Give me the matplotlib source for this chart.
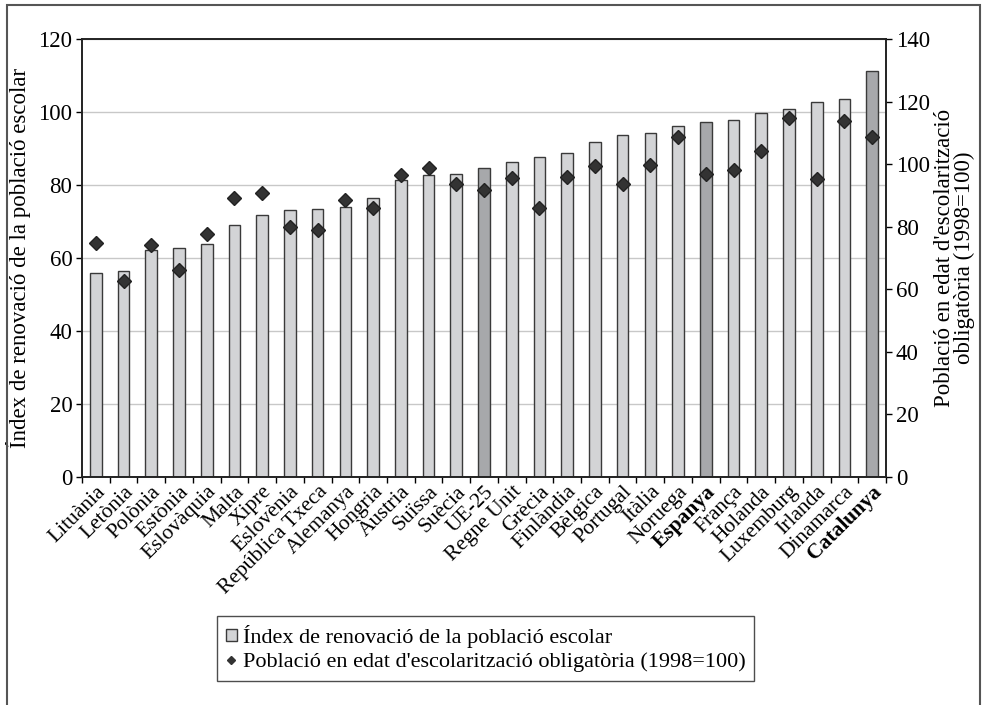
import matplotlib.pyplot as plt
import numpy as np
from matplotlib.patches import Rectangle
from matplotlib.lines import Line2D

plt.rcParams["font.family"] = ["Liberation Serif", "DejaVu Serif"]

countries = [
    "Lituània", "Letònia", "Polònia", "Estònia", "Eslovàquia", "Malta", "Xipre",
    "Eslovènia", "República Txeca", "Alemanya", "Hongria", "Àustria", "Suïssa",
    "Suècia", "UE-25", "Regne Unit", "Grècia", "Finlàndia", "Bèlgica", "Portugal",
    "Itàlia", "Noruega", "Espanya", "França", "Holanda", "Luxemburg", "Irlanda",
    "Dinamarca", "Catalunya",
]
renewal_index = [
    56.0, 56.3, 62.2, 62.8, 63.8, 69.0, 71.8, 73.1, 73.4, 73.9, 76.4, 81.3, 82.9,
    83.1, 84.6, 86.4, 87.7, 88.7, 91.7, 93.7, 94.4, 96.2, 97.2, 97.8, 99.7, 100.8,
    102.7, 103.6, 111.4,
]
school_pop = [
    74.8, 62.6, 74.1, 66.1, 77.6, 89.1, 90.7, 79.8, 79.0, 88.5, 86.0, 96.7, 98.7,
    93.6, 91.7, 95.7, 86.1, 95.9, 99.6, 93.8, 99.8, 108.6, 96.8, 98.1, 104.3, 114.7,
    95.4, 114.0, 108.7,
]
highlighted = ["UE-25", "Espanya", "Catalunya"]
bold_labels = ["Espanya", "Catalunya"]

light = "#d3d4d6"
dark = "#a7a8ab"
edge = "#3a3a3a"

fig = plt.figure(figsize=(9.91, 7.05), dpi=100)
fig.patches.append(Rectangle((7 / 991, -0.05), (980 - 7) / 991, 1.05 - 5 / 705,
                             transform=fig.transFigure, fill=False,
                             edgecolor="#555555", linewidth=1.5))

ax = fig.add_axes([82 / 991, 1 - 476.7 / 705, (886 - 82) / 991, (476.7 - 39.3) / 705])
x = np.arange(len(countries))
colors = [dark if c in highlighted else light for c in countries]
ax.bar(x, renewal_index, width=0.42, color=colors, edgecolor=edge, linewidth=1.0, zorder=2)
ax.set_xlim(-0.5, len(countries) - 0.5)
ax.set_ylim(0, 120)
ax.set_yticks(np.arange(0, 121, 20))
ax.yaxis.grid(True, color="#c8c8c8", linewidth=1.0, zorder=0)
ax.set_axisbelow(True)
ax.set_ylabel("Índex de renovació de la població escolar", fontsize=16.5, labelpad=5)
ax.tick_params(axis="y", labelsize=16.5, direction="out", length=4, width=1, pad=3)

ax.set_xticks(x)
ax.set_xticklabels(countries, rotation=45, ha="right", rotation_mode="anchor", fontsize=15.5)
for lbl in ax.get_xticklabels():
    if lbl.get_text() in bold_labels:
        lbl.set_fontweight("bold")
ax.tick_params(axis="x", which="major", length=0, pad=4)
ax.set_xticks(np.arange(-0.5, len(countries), 1.0), minor=True)
ax.tick_params(axis="x", which="minor", direction="out", length=4, width=1)
for s in ax.spines.values():
    s.set_color("#222222")
    s.set_linewidth(1.2)

ax2 = ax.twinx()
ax2.plot(x, school_pop, linestyle="none", marker="D", markersize=7.5,
         color="#333333", markeredgecolor="#222222", zorder=3)
ax2.set_ylim(0, 140)
ax2.set_yticks(np.arange(0, 141, 20))
ax2.tick_params(axis="y", labelsize=16.5, direction="out", length=4, width=1, pad=3)
ax2.set_ylabel("Població en edat d'escolarització\nobligatòria (1998=100)",
               fontsize=16.5, labelpad=3, linespacing=0.95)
for s in ax2.spines.values():
    s.set_color("#222222")
    s.set_linewidth(1.2)

handles = [
    Rectangle((0, 0), 1, 1, facecolor=light, edgecolor=edge, linewidth=1),
    Line2D([], [], linestyle="none", marker="D", markersize=4.5, color="#333333"),
]
fig.legend(handles, ["Índex de renovació de la població escolar",
                     "Població en edat d'escolarització obligatòria (1998=100)"],
           loc="upper left", bbox_to_anchor=(217 / 991, 1 - 616 / 705),
           fontsize=16, frameon=True, fancybox=False, edgecolor="#222222",
           handlelength=0.5, handleheight=0.5, handletextpad=0.25,
           borderpad=0.4, labelspacing=0.2, borderaxespad=0)

fig.savefig("out.png", dpi=100)
